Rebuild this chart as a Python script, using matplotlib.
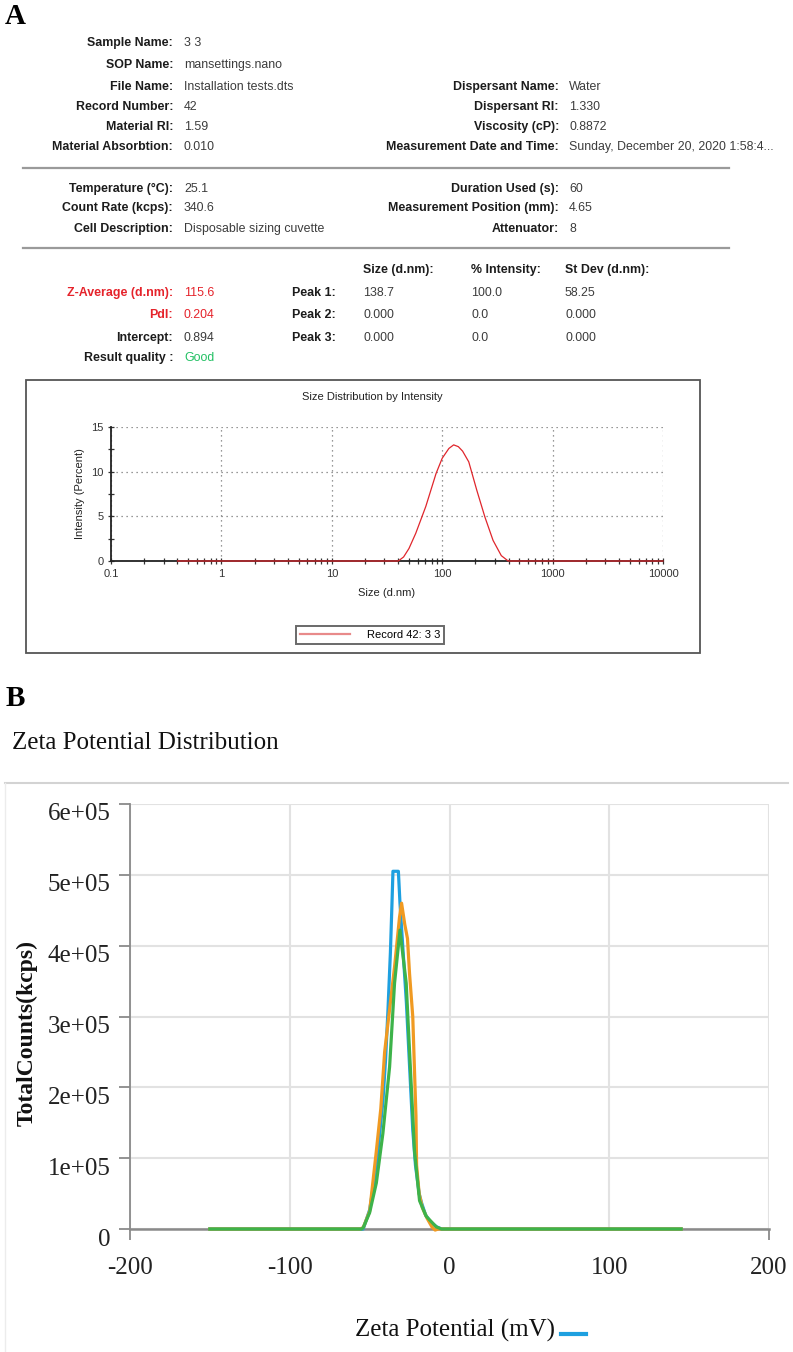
import matplotlib
matplotlib.use("Agg")
import matplotlib.pyplot as plt
from matplotlib.lines import Line2D
from matplotlib.patches import Rectangle
from matplotlib.ticker import FuncFormatter, LogLocator, MultipleLocator, NullFormatter
from matplotlib.transforms import ScaledTranslation

plt.rcParams["axes.unicode_minus"] = False

# ---- panel A: report text ----
sample_labels = ["Sample Name:", "SOP Name:", "File Name:", "Record Number:",
                 "Material RI:", "Material Absorbtion:"]
sample_values = ["3 3", "mansettings.nano", "Installation tests.dts", "42", "1.59", "0.010"]
dispersant_labels = ["Dispersant Name:", "Dispersant RI:", "Viscosity (cP):",
                     "Measurement Date and Time:"]
dispersant_values = ["Water", "1.330", "0.8872", "Sunday, December 20, 2020 1:58:4..."]
cell_labels = ["Temperature (°C):", "Count Rate (kcps):", "Cell Description:"]
cell_values = ["25.1", "340.6", "Disposable sizing cuvette"]
run_labels = ["Duration Used (s):", "Measurement Position (mm):", "Attenuator:"]
run_values = ["60", "4.65", "8"]
result_labels = ["Z-Average (d.nm):", "PdI:", "Intercept:", "Result quality :"]
result_values = ["115.6", "0.204", "0.894", "Good"]
peak_headers = ["Size (d.nm):", "% Intensity:", "St Dev (d.nm):"]
peak_names = ["Peak 1:", "Peak 2:", "Peak 3:"]
peak_size = ["138.7", "0.000", "0.000"]
peak_intensity = ["100.0", "0.0", "0.0"]
peak_stdev = ["58.25", "0.000", "0.000"]

# ---- panel A: size distribution (d.nm vs % intensity) ----
size_nm = [0.4, 40, 44.7, 50, 57.6, 71, 88, 100, 115, 127, 140, 153, 174, 206,
           244, 289, 343, 396, 10000]
intensity = [0, 0, 0.45, 1.4, 3.1, 6.1, 9.8, 11.5, 12.6, 13.0, 12.8, 12.3, 11.1,
             7.9, 4.9, 2.3, 0.6, 0, 0]
record_label = "Record 42: 3 3"

# ---- panel B: zeta potential distribution ----
blue_mv = [-150, -54, -50, -47, -44.8, -41.7, -40, -38.5, -37, -36, -35.4, -32,
           -31, -29, -27, -25, -23, -21.3, -19, -17.5, -15, -12, -8, -5, 145]
blue_counts = [0, 0, 0.27e5, 0.7e5, 1.1e5, 1.8e5, 2.4e5, 3.1e5, 3.9e5, 4.6e5,
               5.05e5, 5.05e5, 4.6e5, 3.9e5, 3.2e5, 2.3e5, 1.4e5, 0.9e5, 0.5e5,
               0.37e5, 0.2e5, 0.1e5, 0.03e5, 0, 0]
orange_mv = [-150, -56, -54, -50, -45.8, -43, -40.6, -37.5, -34.4, -31.3, -30,
             -28, -26.3, -25, -23, -21, -20.6, -19, -17, -14, -11, -9, -7, 145]
orange_counts = [0, 0, 0.02e5, 0.25e5, 1.1e5, 1.7e5, 2.5e5, 3.1e5, 3.7e5, 4.4e5,
                 4.6e5, 4.3e5, 4.1e5, 3.6e5, 3.0e5, 1.6e5, 0.9e5, 0.5e5, 0.3e5,
                 0.15e5, 0.03e5, -0.015e5, 0, 0]
green_mv = [-150, -55, -54, -50, -45.8, -41.7, -37.5, -34.4, -31, -27.1, -25,
            -21.9, -18.75, -14.6, -8.3, -5, 145]
green_counts = [0, 0, 0.02e5, 0.23e5, 0.65e5, 1.35e5, 2.29e5, 3.47e5, 4.22e5,
                3.47e5, 2.5e5, 1.1e5, 0.4e5, 0.18e5, 0.03e5, 0, 0]

W, H = 793, 1352


def fx(x):
    return x / W


def fy(y):
    return 1 - y / H


fig = plt.figure(figsize=(W / 100, H / 100), dpi=100)

sans = "Liberation Sans"
serif = "Liberation Serif"
lab_col = "#1c1c1c"
val_col = "#3c3c3c"
red = "#e5232b"
fs = 8.9


def label(x, y, s, color=lab_col, bold=True, ha="right"):
    fig.text(fx(x), fy(y), s, ha=ha, va="center", fontsize=fs, family=sans,
             fontweight="bold" if bold else "normal", color=color)


fig.text(fx(5), fy(17), "A", ha="left", va="center", fontsize=21,
         family=serif, fontweight="bold")

rows_y = [43, 65, 87, 107, 127, 147]
for i, (lab, val) in enumerate(zip(sample_labels, sample_values)):
    label(173, rows_y[i], lab)
    label(184, rows_y[i], val, color=val_col, bold=False, ha="left")
for i, (lab, val) in enumerate(zip(dispersant_labels, dispersant_values)):
    label(559, rows_y[i + 2], lab)
    label(569, rows_y[i + 2], val, color=val_col, bold=False, ha="left")

rows_y2 = [189, 208, 229]
for i in range(3):
    label(173, rows_y2[i], cell_labels[i])
    label(184, rows_y2[i], cell_values[i], color=val_col, bold=False, ha="left")
    label(559, rows_y2[i], run_labels[i])
    label(569, rows_y2[i], run_values[i], color=val_col, bold=False, ha="left")

for ysep in [168, 248]:
    fig.add_artist(Line2D([fx(23), fx(729)], [fy(ysep)] * 2, color="#9a9a9a", lw=1.6))

col_x = [363, 471, 565]
for x, h in zip(col_x, peak_headers):
    label(x, 270, h, ha="left")

rows_y3 = [293, 315, 338, 358]
res_cols = [red, red, lab_col, lab_col]
res_vcols = [red, red, val_col, "#22c063"]
for i in range(4):
    label(173, rows_y3[i], result_labels[i], color=res_cols[i])
    label(184, rows_y3[i], result_values[i], color=res_vcols[i], bold=False, ha="left")
for i in range(3):
    label(292, rows_y3[i], peak_names[i], ha="left")
    for x, col in zip(col_x, [peak_size, peak_intensity, peak_stdev]):
        label(x, rows_y3[i], col[i], color=val_col, bold=False, ha="left")

# box around the size chart
fig.add_artist(Rectangle((fx(26), fy(653)), fx(700) - fx(26), fy(380) - fy(653),
                         transform=fig.transFigure, fill=False, ec="#555555", lw=1.3))

ax1 = fig.add_axes([fx(111), fy(561), fx(663) - fx(111), fy(427) - fy(561)])
ax1.plot(size_nm, intensity, color="#e0262c", lw=0.9, label=record_label,
         zorder=3, clip_on=False)
ax1.set_xscale("log")
ax1.set_xlim(0.1, 10000)
ax1.set_ylim(0, 15)
ax1.set_yticks([0, 5, 10, 15])
ax1.yaxis.set_minor_locator(MultipleLocator(2.5))
ax1.xaxis.set_major_locator(LogLocator(base=10, numticks=10))
ax1.xaxis.set_minor_locator(LogLocator(base=10, subs=range(2, 10), numticks=50))
ax1.xaxis.set_minor_formatter(NullFormatter())
ax1.xaxis.set_major_formatter(FuncFormatter(lambda v, p: f"{v:g}"))
for s in ["top", "right"]:
    ax1.spines[s].set_visible(False)
for s in ["left", "bottom"]:
    ax1.spines[s].set_linewidth(1.3)
    ax1.spines[s].set_color("#222222")
ax1.grid(True, which="major", ls=(0, (1, 3)), color="#777777", lw=0.9)
ax1.tick_params(which="both", direction="inout", length=5, width=0.9,
                color="#333333", labelsize=8, pad=3, labelcolor="#333333")
ax1.tick_params(which="minor", length=4)
for t in ax1.get_xticklabels() + ax1.get_yticklabels():
    t.set_family(sans)

fig.text(fx(372), fy(397), "Size Distribution by Intensity", ha="center", va="center",
         fontsize=8, family=sans, color="#222222")
fig.text(fx(387), fy(593), "Size (d.nm)", ha="center", va="center",
         fontsize=8, family=sans, color="#222222")
fig.text(fx(80), fy(494), "Intensity (Percent)", ha="center", va="center",
         rotation=90, fontsize=8, family=sans, color="#222222")

leg = ax1.legend(loc="center", bbox_to_anchor=(fx(370), fy(635)),
                 bbox_transform=fig.transFigure, fancybox=False, edgecolor="#444444",
                 prop={"family": sans, "size": 8}, handlelength=4.5, borderpad=0.35,
                 handletextpad=1.5)
leg.get_frame().set_linewidth(1.4)
leg.get_lines()[0].set_color("#e88a8a")
leg.get_lines()[0].set_linewidth(1.6)

# ---- panel B ----
fig.text(fx(6), fy(698), "B", ha="left", va="center", fontsize=21,
         family=serif, fontweight="bold")
fig.text(fx(12), fy(743), "Zeta Potential Distribution", ha="left", va="center",
         fontsize=18, family=serif, color="#111111")
fig.add_artist(Line2D([fx(5), fx(788)], [fy(783)] * 2, color="#d3d3d3", lw=1.5))
fig.add_artist(Line2D([fx(5)] * 2, [fy(783), fy(1352)], color="#ececec", lw=1))

ax2 = fig.add_axes([fx(130), fy(1229), fx(769) - fx(130), fy(804) - fy(1229)])
ax2.plot(blue_mv, blue_counts, color="#1ea0e0", lw=2.3, clip_on=False, zorder=3)
ax2.plot(orange_mv, orange_counts, color="#f09a22", lw=2.3, clip_on=False, zorder=4)
ax2.plot(green_mv, green_counts, color="#3db34a", lw=2.3, clip_on=False, zorder=5)
ax2.set_xlim(-200, 200)
ax2.set_ylim(0, 6e5)
ax2.set_xticks([-200, -100, 0, 100, 200])
ax2.set_yticks([0, 1e5, 2e5, 3e5, 4e5, 5e5, 6e5])
ax2.yaxis.set_major_formatter(FuncFormatter(lambda v, p: "0" if v == 0 else f"{v:.0e}"))
for s in ["top", "right"]:
    ax2.spines[s].set_visible(False)
ax2.spines["left"].set_color("#8a8a8a")
ax2.spines["left"].set_linewidth(1.3)
ax2.spines["bottom"].set_color("#8a8a8a")
ax2.spines["bottom"].set_linewidth(1.8)
ax2.grid(True, color="#e2e2e2", lw=1.5)
ax2.set_axisbelow(True)
ax2.tick_params(axis="y", length=8, width=1.3, color="#8a8a8a", pad=6,
                labelsize=18, labelcolor="#222222")
ax2.tick_params(axis="x", length=8, width=1.3, color="#8a8a8a", pad=12,
                labelsize=18, labelcolor="#222222")
for i, t in enumerate(ax2.xaxis.get_major_ticks()):
    if i not in (0, 4):
        t.tick1line.set_visible(False)
offset = ScaledTranslation(0, -8 / 100, fig.dpi_scale_trans)
for t in ax2.get_yticklabels():
    t.set_transform(t.get_transform() + offset)
for t in ax2.get_xticklabels() + ax2.get_yticklabels():
    t.set_family(serif)

fig.text(fx(455), fy(1330), "Zeta Potential (mV)", ha="center", va="center",
         fontsize=18, family=serif, color="#111111")
fig.add_artist(Line2D([fx(561), fx(586)], [fy(1334)] * 2, color="#1ea0e0", lw=3))
fig.text(fx(27), fy(1033), "TotalCounts(kcps)", ha="center", va="center",
         rotation=90, fontsize=17, family=serif, fontweight="bold", color="#111111")

fig.savefig("out.png", dpi=100)
